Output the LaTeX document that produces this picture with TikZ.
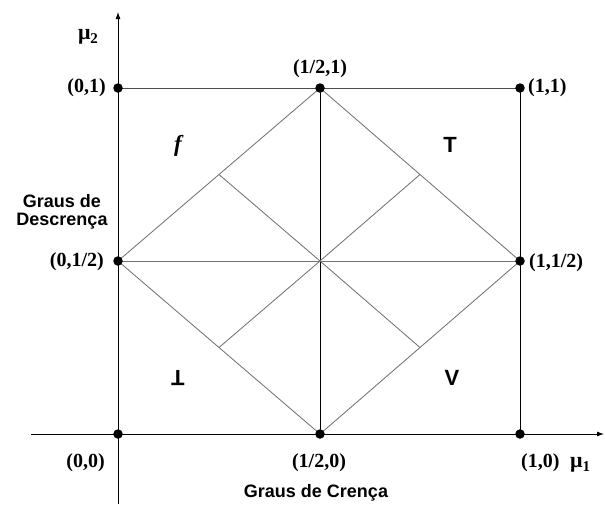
\documentclass[tikz,border=0pt]{standalone}
\usepackage{fontspec}
\setmainfont{Liberation Serif}
\newfontfamily\lsans{Liberation Sans}
\usetikzlibrary{arrows.meta,calc}
\begin{document}
\begin{tikzpicture}[x=1pt,y=-1pt,
  coordlbl/.style={inner sep=0pt,font=\fontsize{20}{22}\selectfont\bfseries},
  sanslbl/.style={inner sep=0pt,font=\fontsize{18}{20}\selectfont\lsans\bfseries,align=center},
  regionlbl/.style={inner sep=0pt,font=\fontsize{22}{22}\selectfont\lsans\bfseries},
  axisline/.style={line width=0.85pt,black},
  darkline/.style={line width=0.85pt,black},
  greyline/.style={line width=0.85pt,black!55},
  pointdot/.style={circle,fill=black,inner sep=0pt,minimum size=9.5pt}]
\useasboundingbox (0,0) rectangle (605,504);
% points
\coordinate (O) at (118,434);
\coordinate (Hb) at (320,434);
\coordinate (Ib) at (520,434);
\coordinate (Lh) at (118,261);
\coordinate (Rh) at (520,261);
\coordinate (Tl) at (118,88);
\coordinate (Ht) at (320,88);
\coordinate (Tr) at (520,88);
\coordinate (C) at (320,261);
\coordinate (xs) at (31,434);
\coordinate (xe) at (604,434);
\coordinate (ys) at (118,504);
\coordinate (ye) at (118,12);
% axes
\draw[axisline,-{Latex[length=7pt,width=5pt]}] (xs) -- (xe);
\draw[axisline,-{Latex[length=7pt,width=5pt]}] (ys) -- (ye);
% square
\draw[darkline,black!70] (Tl) -- (Tr);
\draw[darkline] (Tr) -- (Ib);
\draw[darkline] (Ht) -- (Hb);
\draw[greyline] (Lh) -- (Rh);
% diamond
\draw[greyline] (Lh) -- (Ht) -- (Rh) -- (Hb) -- cycle;
% inner diagonals
\draw[greyline] (C) -- ($(Lh)!0.5!(Ht)$);
\draw[greyline] (C) -- ($(Ht)!0.5!(Rh)$);
\draw[greyline] (C) -- ($(Rh)!0.5!(Hb)$);
\draw[greyline] (C) -- ($(Hb)!0.5!(Lh)$);
% dots
\foreach \p in {O,Hb,Ib,Lh,Rh,Tl,Ht,Tr} \node[pointdot] at (\p) {};
% labels
\node[coordlbl,anchor=east] (l01) at (106,88) {(0,1)};
\node[coordlbl] (lh1) at (320,69) {(1/2,1)};
\node[coordlbl,anchor=west] (l11) at (528,88) {(1,1)};
\node[coordlbl,anchor=east] (l0h) at (104,262) {(0,1/2)};
\node[coordlbl,anchor=west] (l1h) at (529,263) {(1,1/2)};
\node[coordlbl,anchor=east] (l00) at (105,463) {(0,0)};
\node[coordlbl] (lh0) at (319,463) {(1/2,0)};
\node[coordlbl,anchor=west] (l10) at (521,463) {(1,0)};
\node[inner sep=0pt,anchor=west,font=\fontsize{22}{22}\selectfont\bfseries] (mu1) at (570,465) {μ\raisebox{-0.35ex}{\fontsize{15}{15}\selectfont 1}};
\node[inner sep=0pt,font=\fontsize{22}{22}\selectfont\bfseries] (mu2) at (88,37) {μ\raisebox{-0.35ex}{\fontsize{15}{15}\selectfont 2}};
\node[sanslbl] (gc) at (316,493) {Graus de Crença};
\node[sanslbl] (gd) at (62,212) {Graus de\\[-2pt]Descrença};
\node[inner sep=0pt,font=\fontsize{23}{22}\selectfont\bfseries\itshape] (f) at (178,146) {f};
\node[regionlbl] (T) at (450,145) {T};
\node[regionlbl] (bot) at (178,378) {\rotatebox[origin=c]{180}{T}};
\node[regionlbl] (V) at (452,378) {V};
\end{tikzpicture}
\end{document}
